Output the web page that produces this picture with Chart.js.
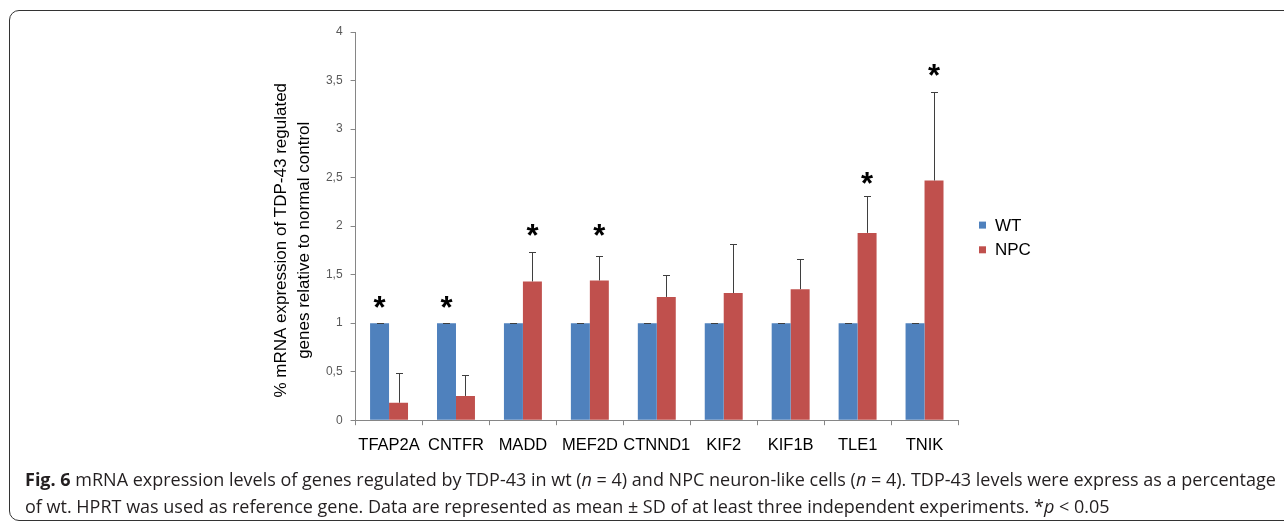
<!DOCTYPE html>
<html>
<head>
<meta charset="utf-8">
<script src="https://cdn.jsdelivr.net/npm/chart.js@4.4.1/dist/chart.umd.min.js"></script>
<style>
  html, body { margin: 0; padding: 0; background: #fff; width: 1284px; height: 523px; overflow: hidden; }
  #frame { position: absolute; left: 9px; top: 10px; width: 1320px; height: 509px; border: 1.5px solid #333; border-radius: 10px; }
  #chart { position: absolute; left: 0; top: 0; }
  #caption { position: absolute; left: 25px; top: 466px; font-family: "Open Sans"; font-size: 18px; line-height: 27px; color: #231f20; white-space: nowrap; }
</style>
</head>
<body>
<div id="frame"></div>
<canvas id="chart" width="1284" height="469"></canvas>
<div id="caption">
  <b>Fig. 6</b> mRNA expression levels of genes regulated by TDP-43 in wt (<i>n</i> = 4) and NPC neuron-like cells (<i>n</i> = 4). TDP-43 levels were express as a percentage<br>
  of wt. HPRT was used as reference gene. Data are represented as mean ± SD of at least three independent experiments. *<i>p</i> &lt; 0.05
</div>
<script>
// genes on the x axis
const genes = ["TFAP2A", "CNTFR", "MADD", "MEF2D", "CTNND1", "KIF2", "KIF1B", "TLE1", "TNIK"];

// WT is the normal control, so always 1
const wtMean = [1, 1, 1, 1, 1, 1, 1, 1, 1];
const wtSd = [0.004, 0.004, 0.004, 0.004, 0.004, 0.004, 0.004, 0.004, 0.004];

// NPC neuron-like cells
const npcMean = [0.18, 0.25, 1.43, 1.44, 1.27, 1.31, 1.35, 1.93, 2.47];
const npcSd = [0.31, 0.22, 0.30, 0.25, 0.23, 0.51, 0.31, 0.38, 0.91];

// significance stars (p < 0.05): gene, series index (0 = WT, 1 = NPC), height
const starGenes = ["TFAP2A", "CNTFR", "MADD", "MEF2D", "TLE1", "TNIK"];
const starSeries = [0, 0, 1, 1, 1, 1];
const starY = [1.22, 1.22, 1.96, 1.96, 2.50, 3.61];

const yTitle = ["% mRNA expression of TDP-43 regulated", "genes relative to normal control"];

const FONT = "'Liberation Sans', Arial, sans-serif";

// upward SD whiskers with a small cap
const errorBars = {
  id: "errorBars",
  afterDatasetsDraw(chart) {
    const { ctx } = chart;
    const yScale = chart.scales.y;
    ctx.save();
    ctx.strokeStyle = "#3f3f3f";
    ctx.lineWidth = 1;
    chart.data.datasets.forEach((ds, di) => {
      const meta = chart.getDatasetMeta(di);
      meta.data.forEach((bar, i) => {
        const x = Math.round(bar.x) + 0.5;
        const y0 = yScale.getPixelForValue(ds.data[i]);
        const y1 = Math.round(yScale.getPixelForValue(ds.data[i] + ds.errors[i])) + 0.5;
        ctx.beginPath();
        ctx.moveTo(x, y0);
        ctx.lineTo(x, y1);
        ctx.moveTo(x - 3.5, y1);
        ctx.lineTo(x + 3.5, y1);
        ctx.stroke();
      });
    });
    ctx.restore();
  }
};

// asterisks above the significant bars
const stars = {
  id: "stars",
  afterDatasetsDraw(chart) {
    const { ctx } = chart;
    const yScale = chart.scales.y;
    ctx.save();
    ctx.font = "bold 31px " + FONT;
    ctx.fillStyle = "#000";
    ctx.textAlign = "center";
    ctx.textBaseline = "alphabetic";
    const m = ctx.measureText("*");
    const asc = m.actualBoundingBoxAscent, desc = m.actualBoundingBoxDescent;
    starGenes.forEach((g, k) => {
      const i = genes.indexOf(g);
      const bar = chart.getDatasetMeta(starSeries[k]).data[i];
      const cy = yScale.getPixelForValue(starY[k]);
      ctx.fillText("*", bar.x, cy + (asc - desc) / 2);
    });
    ctx.restore();
  }
};

// legend to the right of the plot, Excel style
const sideLegend = {
  id: "sideLegend",
  afterDraw(chart) {
    const { ctx, chartArea } = chart;
    const x = chartArea.right + 21;
    let y = (chartArea.top + chartArea.bottom) / 2 - 1;
    ctx.save();
    ctx.font = "17px " + FONT;
    ctx.textBaseline = "middle";
    chart.data.datasets.forEach((ds) => {
      ctx.fillStyle = ds.backgroundColor;
      ctx.fillRect(x, y - 3.5, 7, 7);
      ctx.fillStyle = "#000";
      ctx.fillText(ds.label, x + 16, y + 1);
      y += 24.7;
    });
    ctx.restore();
  }
};

new Chart(document.getElementById("chart"), {
  type: "bar",
  data: {
    labels: genes,
    datasets: [
      { label: "WT", data: wtMean, errors: wtSd, backgroundColor: "#4f81bd",
        barPercentage: 1, categoryPercentage: 0.567 },
      { label: "NPC", data: npcMean, errors: npcSd, backgroundColor: "#c0504d",
        barPercentage: 1, categoryPercentage: 0.567 }
    ]
  },
  options: {
    responsive: false,
    animation: false,
    layout: { padding: { left: 270, right: 326, top: 32, bottom: 4 } },
    plugins: { legend: { display: false }, tooltip: { enabled: false } },
    scales: {
      x: {
        offset: true,
        grid: { drawOnChartArea: false, drawTicks: true, tickLength: 5, color: "#868686", offset: true },
        border: { color: "#868686" },
        ticks: { color: "#000", font: { family: FONT, size: 16.5 }, padding: 10, maxRotation: 0, autoSkip: false }
      },
      y: {
        min: 0,
        max: 4,
        grid: { drawOnChartArea: false, drawTicks: true, tickLength: 5, color: "#868686" },
        border: { color: "#868686" },
        ticks: {
          stepSize: 0.5,
          color: "#595959",
          font: { family: FONT, size: 12 },
          padding: 8,
          callback: (v) => String(v).replace(".", ",")
        },
        title: {
          display: true,
          text: yTitle.map((t) => t + "      "),
          color: "#000",
          font: { family: FONT, size: 17, lineHeight: 1.35 },
          padding: { top: 0, bottom: 2 }
        }
      }
    }
  },
  plugins: [errorBars, stars, sideLegend]
});
</script>
</body>
</html>
